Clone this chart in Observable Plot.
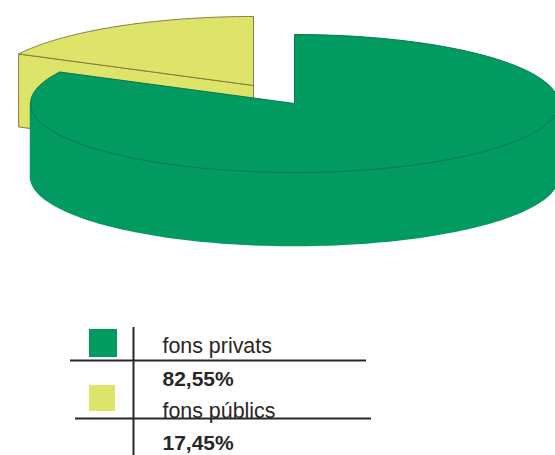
<!DOCTYPE html>
<html>
<head>
<meta charset="utf-8">
<script src="https://cdn.jsdelivr.net/npm/d3@7"></script>
<script src="https://cdn.jsdelivr.net/npm/@observablehq/plot@0.6"></script>
<style>html,body{margin:0;padding:0;background:#fff}svg{display:block}</style>
</head>
<body>
<div id="chart"></div>
<script>
const categories = ["fons privats", "fons públics"];
const shares = [82.55, 17.45];
const shareLabels = ["82,55%", "17,45%"];
const colors = ["#019a60", "#dee36a"];
const strokes = ["#07794f", "#857b3e"];

// page layout of the drawing (not data)
const W = 555, H = 455;
const rx = 264, ry = 69, depth = 73;
const greenCentre = [294, 103];
const yellowCentre = [253, 85];

const turn = t => t / 100 * 2 * Math.PI;
const onRim = (c, t, dy = 0) => ({x: c[0] + rx * Math.sin(t), y: c[1] - ry * Math.cos(t) + dy});
const arc = (c, a, b, dy = 0) => d3.range(0, 121).map(i => onRim(c, a + (b - a) * i / 120, dy));
const apex = (c, dy = 0) => ({x: c[0], y: c[1] + dy});
const closed = pts => [...pts, pts[0]];

const split = turn(shares[0]);
const greenTop = closed([apex(greenCentre), ...arc(greenCentre, 0, split)]);
const greenWall = closed([
  ...arc(greenCentre, Math.PI / 2, 3 * Math.PI / 2),
  ...arc(greenCentre, 3 * Math.PI / 2, Math.PI / 2, depth)
]);
const yellowTop = closed([apex(yellowCentre), ...arc(yellowCentre, split, 2 * Math.PI)]);
const yellowCut = closed([
  apex(yellowCentre), onRim(yellowCentre, split),
  onRim(yellowCentre, split, depth), apex(yellowCentre, depth)
]);

// legend layout
const rowKey = [
  {x1: 89, x2: 117, y1: 329, y2: 357},
  {x1: 89, x2: 115, y1: 385, y2: 411}
];
const labelY = [346, 411];
const valueY = [379, 443];
const dividerRows = [
  {x1: 70, x2: 366, y: 360},
  {x1: 75, x2: 371, y: 418}
];
const textX = 162, ink = "#2a2627";
const face = (pts, i, w = 1) => Plot.line(pts, {x: "x", y: "y", fill: colors[i], stroke: strokes[i], strokeWidth: w, curve: "linear"});

const chart = Plot.plot({
  width: W, height: H,
  margin: 0,
  x: {domain: [0, W], range: [0, W], axis: null},
  y: {domain: [0, H], range: [0, H], axis: null},
  style: {background: "#fff", fontFamily: "'Liberation Sans', Arial, sans-serif"},
  marks: [
    face(yellowCut, 1),
    face(yellowTop, 1),
    Plot.line(greenWall, {x: "x", y: "y", fill: colors[0], stroke: colors[0], curve: "linear"}),
    face(greenTop, 0),
    Plot.rect(categories, {
      x1: (d, i) => rowKey[i].x1, x2: (d, i) => rowKey[i].x2,
      y1: (d, i) => rowKey[i].y1, y2: (d, i) => rowKey[i].y2,
      fill: (d, i) => colors[i]
    }),
    Plot.text(categories, {x: textX, y: (d, i) => labelY[i], text: d => d, textAnchor: "start", fontSize: 21.4, fill: ink}),
    Plot.text(shareLabels, {x: textX, y: (d, i) => valueY[i], text: d => d, textAnchor: "start", fontSize: 21, fontWeight: "bold", fill: ink}),
    Plot.ruleX([133], {y1: 327, y2: 455, stroke: ink, strokeWidth: 2}),
    Plot.ruleY(dividerRows, {y: "y", x1: "x1", x2: "x2", stroke: ink, strokeWidth: 2})
  ]
});
document.getElementById("chart").append(chart);
</script>
</body>
</html>
